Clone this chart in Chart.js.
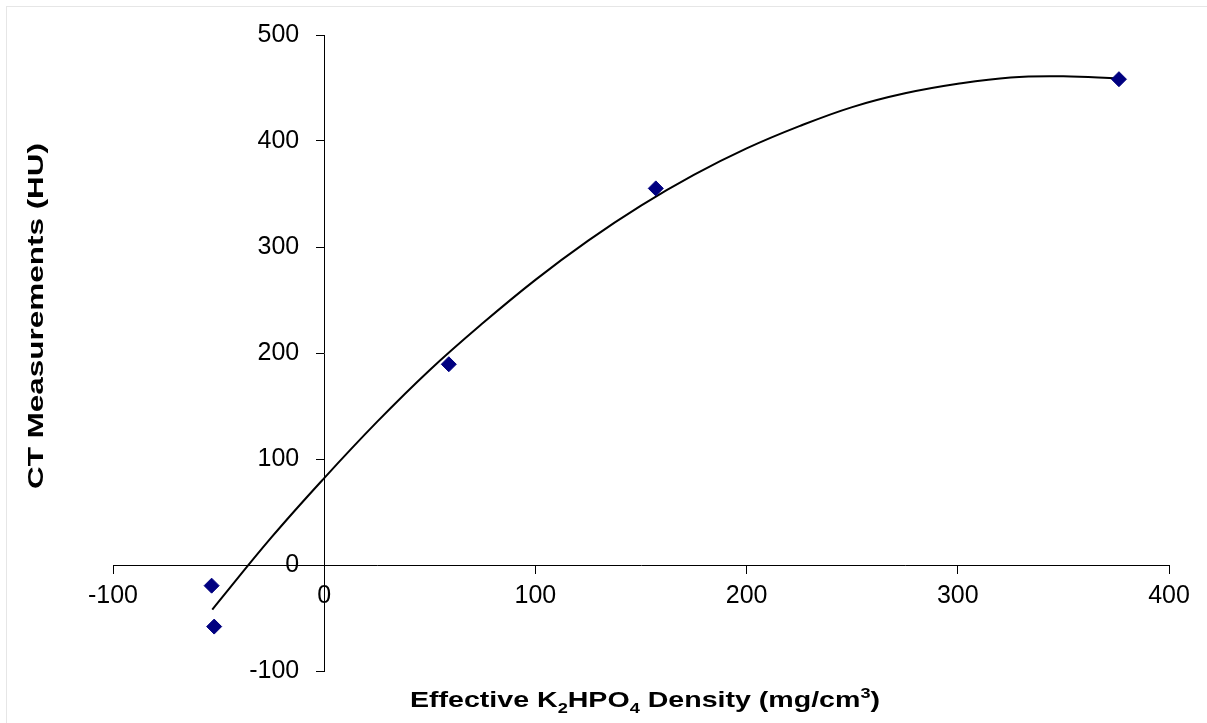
<!DOCTYPE html>
<html>
<head>
<meta charset="utf-8">
<script src="https://cdn.jsdelivr.net/npm/chart.js@4"></script>
<style>
  html, body { margin: 0; padding: 0; background: #fff; }
  #wrap { width: 1207px; height: 723px; position: relative; }
</style>
</head>
<body>
<div id="wrap"><canvas id="chart"></canvas></div>
<script>
  // measured points (density mg/cm3, CT value HU)
  const densityValues = [-53.3, -52.1, 59, 157, 376.3];
  const ctValues = [-19.5, -58.1, 189.4, 355.3, 458.3];

  // trendline (2nd order polynomial)
  const trendX = [-53, -25, 0, 25, 50, 75, 100, 125, 150, 175, 200, 225, 250, 275, 300, 325, 350, 376];
  const trendY = [-42, 26, 82, 135, 184, 228, 269, 306, 339, 368, 393, 414, 432, 445, 454, 460, 461, 459];

  const xTicks = [-100, 0, 100, 200, 300, 400];
  const yTicks = [-100, 0, 100, 200, 300, 400, 500];

  const tickFont = { family: "'Liberation Sans', Arial, sans-serif", size: 25 };
  const titleFont = "bold 22px 'Liberation Sans', Arial, sans-serif";
  const subFont = "bold 14px 'Liberation Sans', Arial, sans-serif";
  const yLabelGap = 25; // y tick labels sit this far left of the axis line

  const frameAndTitles = {
    id: "frameAndTitles",
    beforeDraw(chart) {
      const ctx = chart.ctx;
      ctx.save();
      ctx.fillStyle = "#fff";
      ctx.fillRect(0, 0, chart.width, chart.height);
      ctx.strokeStyle = "#e6e6e6";
      ctx.lineWidth = 1;
      ctx.strokeRect(6.5, 6.5, 1300, 900);
      ctx.restore();
    },
    afterDraw(chart) {
      const ctx = chart.ctx;
      ctx.save();
      ctx.fillStyle = "#000";
      ctx.textBaseline = "alphabetic";
      ctx.textAlign = "left";

      // x title with sub/superscripts, stretched like the original picture
      const parts = [
        ["Effective K", titleFont, 0],
        ["2", subFont, 6],
        ["HPO", titleFont, 0],
        ["4", subFont, 6],
        [" Density (mg/cm", titleFont, 0],
        ["3", subFont, -9],
        [")", titleFont, 0],
      ];
      let total = 0;
      parts.forEach((p) => {
        ctx.font = p[1];
        total += ctx.measureText(p[0]).width;
      });
      const sx = 470 / total;
      ctx.save();
      ctx.translate(645 - 235, 707);
      ctx.scale(sx, 1);
      let x = 0;
      parts.forEach((p) => {
        ctx.font = p[1];
        ctx.fillText(p[0], x, p[2]);
        x += ctx.measureText(p[0]).width;
      });
      ctx.restore();

      // y title
      ctx.font = titleFont;
      const yText = "CT Measurements (HU)";
      const sy = 346 / ctx.measureText(yText).width;
      ctx.translate(43, 316);
      ctx.rotate(-Math.PI / 2);
      ctx.scale(sy, 1);
      ctx.textAlign = "center";
      ctx.fillText(yText, 0, 0);
      ctx.restore();
    },
  };

  new Chart(document.getElementById("chart"), {
    type: "scatter",
    data: {
      datasets: [
        {
          label: "Measured",
          data: densityValues.map((d, i) => ({ x: d, y: ctValues[i] })),
          pointStyle: "rectRot",
          pointRadius: 7.5,
          pointBackgroundColor: "#000080",
          pointBorderColor: "#000080",
          pointBorderWidth: 1,
          showLine: false,
          order: 1,
        },
        {
          label: "Poly. (Measured)",
          data: trendX.map((d, i) => ({ x: d, y: trendY[i] })),
          showLine: true,
          borderColor: "#000",
          borderWidth: 2,
          pointRadius: 0,
          tension: 0.4,
          fill: false,
          order: 2,
        },
      ],
    },
    options: {
      responsive: true,
      maintainAspectRatio: false,
      animation: false,
      layout: { padding: { left: 113, right: 38, top: 35, bottom: 52 } },
      plugins: {
        legend: { display: false },
        tooltip: { enabled: false },
      },
      scales: {
        x: {
          type: "linear",
          position: { y: 0 },
          min: -100,
          max: 400,
          afterBuildTicks: (axis) => {
            axis.ticks = xTicks.map((v) => ({ value: v }));
          },
          grid: {
            drawOnChartArea: false,
            drawTicks: true,
            tickLength: 8,
            color: "#000",
          },
          border: { display: true, color: "#000", width: 1 },
          ticks: { color: "#000", font: tickFont, padding: 8, maxRotation: 0 },
        },
        y: {
          type: "linear",
          position: { x: 0 },
          min: -100,
          max: 500,
          afterBuildTicks: (axis) => {
            axis.ticks = yTicks.map((v) => ({ value: v }));
          },
          afterUpdate: (axis) => {
            // labels of an axis placed at x=0 get no padding, push them left
            if (axis._gapPatched) return;
            axis._gapPatched = true;
            const orig = axis._computeLabelItems;
            axis._computeLabelItems = function (area) {
              const items = orig.call(this, area);
              items.forEach((it) => {
                it.options.translation[0] -= yLabelGap;
              });
              return items;
            };
          },
          grid: {
            drawOnChartArea: false,
            drawTicks: true,
            tickLength: 8,
            color: "#000",
          },
          border: { display: true, color: "#000", width: 1 },
          ticks: { color: "#000", font: tickFont, padding: 16 },
        },
      },
    },
    plugins: [frameAndTitles],
  });
</script>
</body>
</html>
